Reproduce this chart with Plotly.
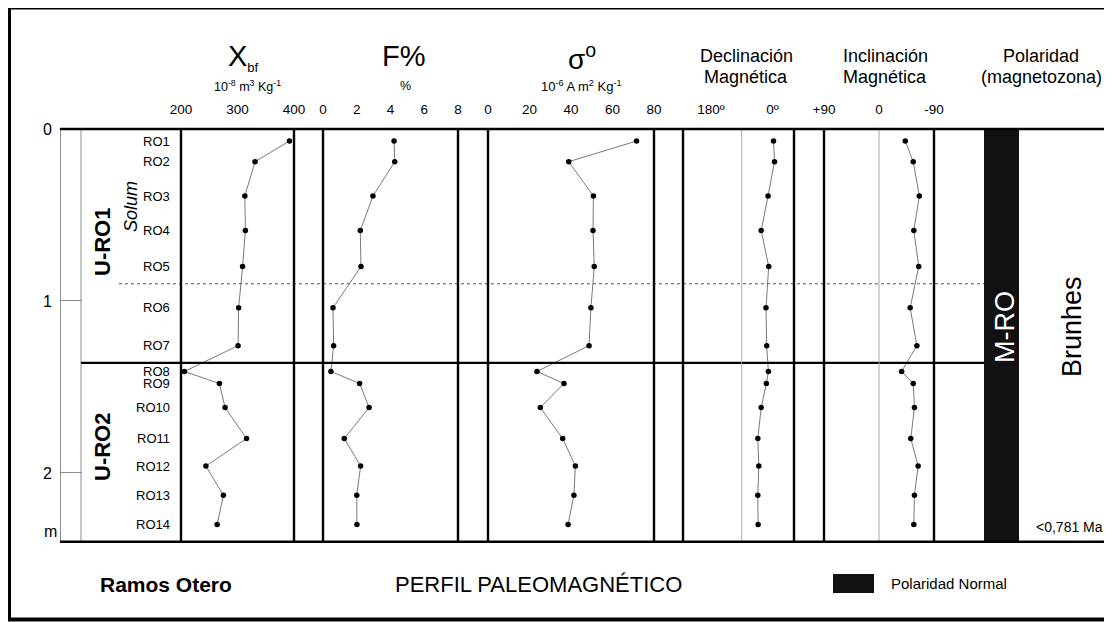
import plotly.graph_objects as go

# ---------------- data ----------------
samples = ["RO1", "RO2", "RO3", "RO4", "RO5", "RO6", "RO7",
           "RO8", "RO9", "RO10", "RO11", "RO12", "RO13", "RO14"]
depth_m = [0.07, 0.19, 0.39, 0.59, 0.80, 1.04, 1.26, 1.41, 1.48, 1.62, 1.80, 1.96, 2.13, 2.30]
xbf = [392, 331, 313, 314, 309, 302, 301, 206, 268, 278, 316, 244, 275, 264]
f_pct = [4.21, 4.25, 2.96, 2.21, 2.25, 0.59, 0.63, 0.47, 2.17, 2.73, 1.26, 2.23, 2.00, 2.01]
sigma = [71.6, 38.9, 50.8, 50.6, 51.2, 49.6, 48.7, 23.6, 36.6, 25.2, 36.0, 42.1, 41.4, 38.6]
declination = [-3, -6, 13, 33, 11, 19, 17, 12, 18, 33, 43, 40, 43, 42]
inclination = [-43, -56, -66, -57, -65, -51, -62, -37, -56, -58, -52, -64, -58, -57]

depth_ticks = [0, 1, 2]
depth_ticklabels = ["0", "1", "2"]
xbf_ticks = [200, 300, 400]
f_ticks = [0, 2, 4, 6, 8]
sigma_ticks = [0, 20, 40, 60, 80]
decl_ticks = [180, 0]
decl_ticklabels = ["180º", "0º"]
incl_ticks = [90, 0, -90]
incl_ticklabels = ["+90", "0", "-90"]

solum_base = 0.9          # dotted boundary (Solum)
unit_boundary = 1.36      # U-RO1 / U-RO2
max_depth = 2.4

# ---------------- geometry helpers ----------------
W, H = 1112, 622
OFF = 8   # the page body margin shifts the figure by 8 px
def px(x):
    return (x - OFF) / W
def py(y):
    return 1 - (y - OFF) / H

TOP, BOT = 129, 541.7
FONT = "Liberation Sans, Arial, sans-serif"

panels = {  # pixel extents of each data panel
    "x": (181, 294),
    "x2": (323, 458),
    "x3": (488, 654),
    "x4": (683, 794),
    "x5": (824, 934),
}

fig = go.Figure()

series = [
    ("x", xbf), ("x2", f_pct), ("x3", sigma), ("x4", declination), ("x5", inclination)
]
for ax, vals in series:
    fig.add_trace(go.Scatter(
        x=vals, y=depth_m, xaxis=ax, yaxis="y", mode="lines+markers",
        line=dict(color="#7a7a7a", width=1),
        marker=dict(color="black", size=5.5, line=dict(width=0)),
        showlegend=False, hoverinfo="skip", cliponaxis=False,
    ))

def xaxis_cfg(key, rng, tickvals, ticktext=None):
    d = dict(
        domain=[px(panels[key][0]), px(panels[key][1])],
        range=rng, anchor="y", side="top", automargin=False,
        showgrid=False, zeroline=False, showline=False,
        tickmode="array", tickvals=tickvals,
        ticks="", ticklabelstandoff=11,
        tickfont=dict(family=FONT, size=13.5, color="black"),
    )
    if ticktext is not None:
        d["ticktext"] = ticktext
    return d

layout = dict(
    template="none",
    width=W, height=H, autosize=False,
    margin=dict(l=0, r=0, t=0, b=0, pad=0, autoexpand=False),
    paper_bgcolor="white", plot_bgcolor="rgba(0,0,0,0)",
    font=dict(family=FONT, color="black"),
    showlegend=False,
    xaxis=xaxis_cfg("x", [200, 400], xbf_ticks),
    xaxis2=xaxis_cfg("x2", [0, 8], f_ticks),
    xaxis3=xaxis_cfg("x3", [0, 80], sigma_ticks),
    xaxis4=xaxis_cfg("x4", [262, -63], decl_ticks, decl_ticklabels),
    xaxis5=xaxis_cfg("x5", [90, -90], incl_ticks, incl_ticklabels),
    yaxis=dict(
        domain=[py(BOT), py(TOP)], range=[max_depth, 0],
        anchor="free", position=px(60), automargin=False,
        showgrid=False, zeroline=False,
        showline=True, linecolor="#8c8c8c", linewidth=1,
        ticks="inside", ticklen=21, tickcolor="#8c8c8c", tickwidth=1,
        tickmode="array", tickvals=depth_ticks, ticktext=depth_ticklabels,
        tickfont=dict(family=FONT, size=16, color="black"),
        ticklabelstandoff=5,
    ),
)
fig.update_layout(**layout)

shapes = []
# outer frame
shapes.append(dict(type="rect", xref="paper", yref="paper",
                   x0=px(9), x1=px(1135), y0=py(619.5), y1=py(7.5),
                   line=dict(color="black", width=4)))
# second depth column line
shapes.append(dict(type="line", xref="paper", yref="paper",
                   x0=px(81), x1=px(81), y0=py(BOT), y1=py(TOP),
                   line=dict(color="#8c8c8c", width=1)))
# dotted solum line
shapes.append(dict(type="line", xref="paper", yref="y",
                   x0=px(119), x1=px(984), y0=solum_base, y1=solum_base,
                   line=dict(color="#555555", width=1, dash="dot")))
# unit boundary
shapes.append(dict(type="line", xref="paper", yref="y",
                   x0=px(81), x1=px(984), y0=unit_boundary, y1=unit_boundary,
                   line=dict(color="black", width=2.2)))
# gray reference lines in declination / inclination panels
shapes.append(dict(type="line", xref="x4", yref="paper", x0=90, x1=90,
                   y0=py(BOT), y1=py(TOP), line=dict(color="#a8a8a8", width=1)))
shapes.append(dict(type="line", xref="x5", yref="paper", x0=0, x1=0,
                   y0=py(BOT), y1=py(TOP), line=dict(color="#a8a8a8", width=1)))
# panel vertical borders
for (a, b) in panels.values():
    for xx in (a, b):
        shapes.append(dict(type="line", xref="paper", yref="paper",
                           x0=px(xx), x1=px(xx), y0=py(BOT), y1=py(TOP),
                           line=dict(color="black", width=2.4)))
# polarity bar
shapes.append(dict(type="rect", xref="paper", yref="paper",
                   x0=px(984), x1=px(1019), y0=py(BOT), y1=py(TOP),
                   fillcolor="#111111", line=dict(width=0)))
# top and bottom lines
for yy in (TOP, BOT):
    shapes.append(dict(type="line", xref="paper", yref="paper",
                       x0=px(60), x1=px(1140), y0=py(yy), y1=py(yy),
                       line=dict(color="black", width=2.4)))
# legend swatch
shapes.append(dict(type="rect", xref="paper", yref="paper",
                   x0=px(833), x1=px(874), y0=py(593), y1=py(574),
                   fillcolor="#111111", line=dict(width=0)))
fig.update_layout(shapes=shapes)

ann = []
def text(x, y, s, size, **kw):
    d = dict(x=px(x), y=py(y), xref="paper", yref="paper", text=s, showarrow=False,
             font=dict(family=FONT, size=size, color=kw.pop("color", "black")),
             xanchor=kw.pop("xanchor", "center"), yanchor=kw.pop("yanchor", "middle"))
    d.update(kw)
    ann.append(d)

# column headers
text(243, 58, "Χ<sub><span style='font-size:13px'>bf</span></sub>", 29)
text(247, 86, "10<sup>-8</sup> m<sup>3</sup> Kg<sup>-1</sup>", 12.5)
text(404, 56, "F%", 29)
text(405, 86, "%", 12.5)
text(582, 57, "σ<sup>o</sup>", 28)
text(581, 86, "10<sup>-6</sup> A m<sup>2</sup> Kg<sup>-1</sup>", 13)
text(746, 56, "Declinación", 18)
text(746, 77, "Magnética", 18)
text(885, 56, "Inclinación", 18)
text(885, 77, "Magnética", 18)
text(1041, 56, "Polaridad", 18)
text(1041, 77, "(magnetozona)", 18)

# depth unit
ann.append(dict(x=px(50), y=max_depth, xref="paper", yref="y", text="m",
                showarrow=False, xanchor="center", yanchor="bottom",
                font=dict(family=FONT, size=16, color="black")))

# sample labels
for s, d in zip(samples, depth_m):
    ann.append(dict(x=px(172), y=d, xref="paper", yref="y", text=s,
                    showarrow=False, xanchor="right", yanchor="middle",
                    font=dict(family=FONT, size=13, color="black")))

# unit labels
text(102, 242, "<b>U-RO1</b>", 22, textangle=-90)
text(131, 207, "<i>Solum</i>", 18, textangle=-90)
text(102, 447, "<b>U-RO2</b>", 22, textangle=-90)
text(1005, 327, "M-RO", 27, textangle=-90, color="white")
text(1072, 327, "Brunhes", 27, textangle=-90)
text(1069, 527, "&lt;0,781 Ma", 14)

# footer
text(166, 584, "<b>Ramos Otero</b>", 21)
text(538, 584, "PERFIL PALEOMAGNÉTICO", 22)
text(889, 583, "Polaridad Normal", 15, xanchor="left")

fig.update_layout(annotations=ann)

fig.write_html("out.html")
